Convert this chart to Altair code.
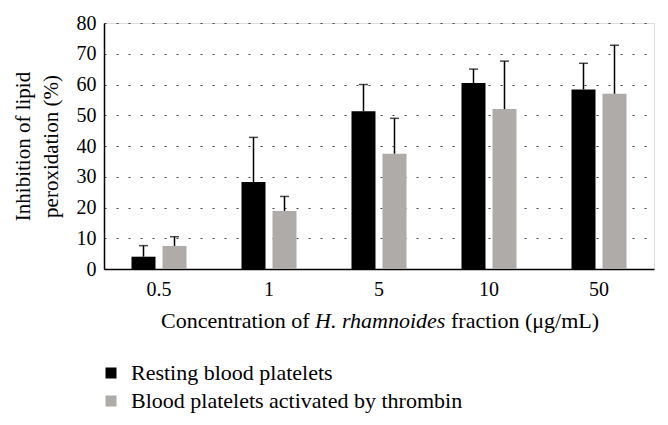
import altair as alt
import pandas as pd

concentrations = ["0.5", "1", "5", "10", "50"]
groups = ["Resting blood platelets", "Blood platelets activated by thrombin"]
resting_mean = [4.0, 28.3, 51.3, 60.5, 58.4]
resting_sd = [3.6, 14.5, 8.7, 4.5, 8.5]
activated_mean = [7.5, 18.9, 37.5, 52.0, 57.0]
activated_sd = [3.0, 4.7, 11.5, 15.6, 15.8]
y_ticks = [0, 10, 20, 30, 40, 50, 60, 70, 80]
colors = ["#000000", "#aeaba9"]
x_title_parts = ["Concentration of", "H. rhamnoides", "fraction (\u03bcg/mL)"]

rows = []
for g, means, sds in [(groups[0], resting_mean, resting_sd), (groups[1], activated_mean, activated_sd)]:
    for c, m, s in zip(concentrations, means, sds):
        rows.append({"conc": c, "group": g, "mean": m, "upper": m + s})
df = pd.DataFrame(rows)

FONT = "Liberation Serif"
FS = 20

x_axis = alt.Axis(title=None, labelAngle=0, ticks=False, tickSize=0, domainColor="black",
                  domainWidth=1.5, labelFont=FONT, labelFontSize=FS,
                  labelColor="black", labelPadding=10, grid=False)
y_axis = alt.Axis(values=y_ticks, ticks=False, tickSize=0, labelOverlap=False,
                  domainColor="black", domainWidth=1.5,
                  labelFont=FONT, labelFontSize=FS, labelColor="black", labelPadding=8,
                  grid=True, gridColor="#444444", gridDash=[2, 10], gridWidth=1.2,
                  title=["Inhibition of lipid", "peroxidation (%)"],
                  titleFont=FONT, titleFontSize=21, titleFontWeight="normal",
                  titleColor="black", titleAngle=-90, titleX=-92, titleY=123,
                  titleAlign="center", titleBaseline="top", titleLineHeight=28)
y_scale = alt.Scale(domain=[0, 80], nice=False)

x_enc = alt.X("conc:N", sort=concentrations,
              scale=alt.Scale(paddingInner=0, paddingOuter=0), axis=x_axis)
xo_enc = alt.XOffset("group:N", sort=groups,
                     scale=alt.Scale(paddingInner=0.226, paddingOuter=0.887))

base = alt.Chart(df)

bars = base.mark_bar(size=24).encode(
    x=x_enc, xOffset=xo_enc,
    y=alt.Y("mean:Q", scale=y_scale, axis=y_axis),
    color=alt.Color("group:N", sort=groups, scale=alt.Scale(domain=groups, range=colors),
                    legend=alt.Legend(title=None, orient="none", legendX=-4, legendY=339,
                                      direction="vertical", symbolType="square", symbolSize=121,
                                      symbolStrokeWidth=0, labelFont=FONT, labelFontSize=22,
                                      labelColor="black", labelOffset=9, rowPadding=6,
                                      labelLimit=0)),
)

err = base.mark_rule(color="black", strokeWidth=1.5).encode(
    x=x_enc, xOffset=xo_enc,
    y=alt.Y("mean:Q", scale=y_scale, axis=y_axis), y2="upper:Q")

caps = base.mark_tick(color="black", size=9, thickness=1.5).encode(
    x=x_enc, xOffset=xo_enc,
    y=alt.Y("upper:Q", scale=y_scale, axis=y_axis))

TFS = 22
tdf = pd.DataFrame({"t": x_title_parts})
t1 = alt.Chart(tdf).transform_filter(alt.datum.t == x_title_parts[0]).mark_text(
    font=FONT, fontSize=TFS, align="left", baseline="alphabetic", color="black").encode(
    text="t:N", x=alt.value(57), y=alt.value(305))
t2 = alt.Chart(tdf).transform_filter(alt.datum.t == x_title_parts[1]).mark_text(
    font=FONT, fontSize=TFS, fontStyle="italic", align="left", baseline="alphabetic",
    color="black").encode(text="t:N", x=alt.value(211), y=alt.value(305))
t3 = alt.Chart(tdf).transform_filter(alt.datum.t == x_title_parts[2]).mark_text(
    font=FONT, fontSize=TFS, align="left", baseline="alphabetic", color="black").encode(
    text="t:N", x=alt.value(347), y=alt.value(305))

chart = alt.layer(bars, err, caps, t1, t2, t3).properties(
    width=550, height=246,
    autosize=alt.AutoSizeParams(type="none"),
    padding={"left": 96, "top": 15, "right": 6, "bottom": 148},
).configure_view(stroke=None).configure(background="white")

chart.save("out.html", embed_options={"renderer": "svg", "actions": False})
